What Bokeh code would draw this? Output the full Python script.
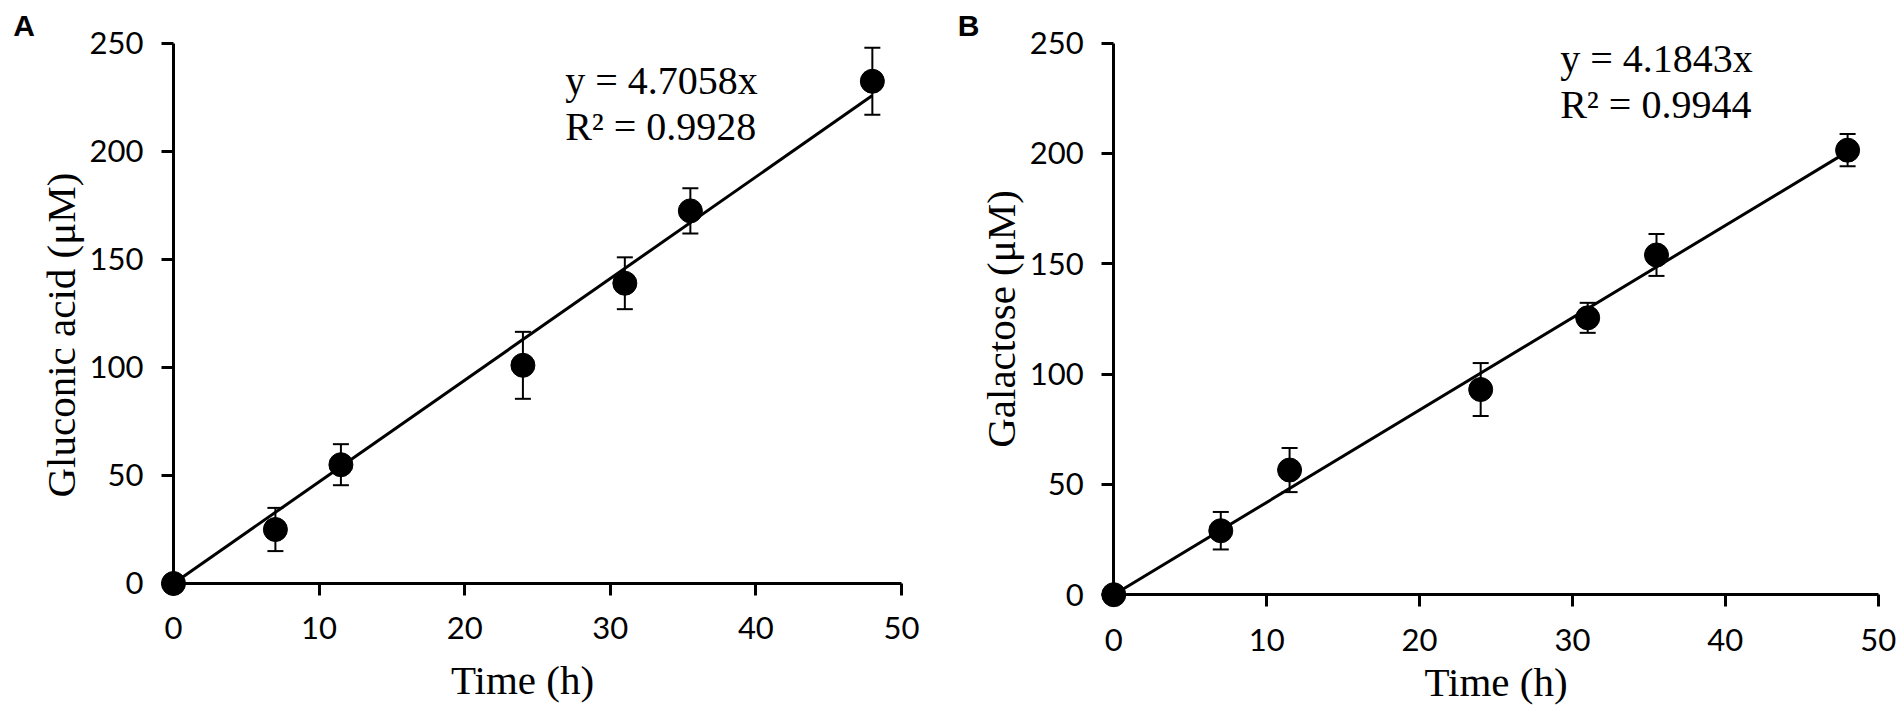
import math
from bokeh.plotting import figure
from bokeh.layouts import row
from bokeh.models import Whisker, TeeHead, ColumnDataSource, Label, Range1d
from bokeh.embed import file_html
from bokeh.resources import INLINE

# ---------------- data ----------------
time_h = [0, 7, 11.5, 24, 31, 35.5, 48]
gluconic = [0, 25, 55, 101, 139, 172.5, 232.5]
gluconic_err = [0, 10, 9.5, 15.5, 12, 10.5, 15.5]
galactose = [0, 29, 56.5, 93, 125.5, 154, 201.5]
galactose_err = [0, 8.5, 10, 12, 6.8, 9.5, 7.3]
x_ticks = [0, 10, 20, 30, 40, 50]
y_ticks = [0, 50, 100, 150, 200, 250]
slopes = [4.7058, 4.1843]
r_squared = [0.9928, 0.9944]
panel_letters = ["A", "B"]
y_titles = ["Gluconic acid (\u03bcM)", "Galactose (\u03bcM)"]
x_title = "Time (h)"

SERIF = "Liberation Serif"
SANS = "Lato"


def make_panel(yvals, yerr, slope, r2, letter, ytitle, geom):
    (w, h, xr, yr, eq_x, eq_y1, eq_y2, let_x, let_y, ylab, xlab) = geom
    p = figure(frame_width=w, frame_height=h,
               x_range=Range1d(*xr), y_range=Range1d(*yr),
               min_border=0,
               output_backend="svg", toolbar_location=None,
               background_fill_color="white", border_fill_color="white")
    p.outline_line_color = None
    p.grid.visible = False

    for ax in (p.xaxis[0], p.yaxis[0]):
        ax.fixed_location = 0
        ax.axis_line_width = 3
        ax.axis_line_color = "black"
        ax.major_tick_line_width = 3
        ax.major_tick_line_color = "black"
        ax.major_tick_in = 0
        ax.major_tick_out = 12
        ax.minor_tick_line_color = None
        ax.major_label_text_font = SANS
        ax.major_label_text_font_size = "31px"
        ax.major_label_text_color = "black"
        ax.axis_label_text_font = SERIF
        ax.axis_label_text_font_size = "41px"
        ax.axis_label_text_font_style = "normal"
        ax.axis_label_text_color = "black"

    p.xaxis.ticker = x_ticks
    p.yaxis.ticker = y_ticks
    p.xaxis.bounds = (x_ticks[0], x_ticks[-1])
    p.yaxis.bounds = (y_ticks[0], y_ticks[-1])
    p.xaxis.major_label_standoff = 22
    p.yaxis.major_label_standoff = 18

    title_style = dict(text_font=SERIF, text_font_size="41px",
                       text_color="black", text_align="center",
                       text_baseline="alphabetic")

    if isinstance(xlab, tuple):
        # x title drawn as a label (sits left of the axis centre)
        p.add_layout(Label(x=xlab[0], y=xlab[1], text=x_title, **title_style))
    else:
        p.xaxis.axis_label = x_title
        p.xaxis.axis_label_standoff = xlab

    if ylab is None:
        p.yaxis.axis_label = ytitle
        p.yaxis.axis_label_standoff = 3
    else:
        # y title drawn as a rotated label (sits lower than the axis centre)
        p.add_layout(Label(x=ylab[0], y=ylab[1], text=ytitle,
                           angle=math.pi / 2, **title_style))

    # fitted line through the origin
    fx = [time_h[0], time_h[-1]]
    fy = [slope * v for v in fx]
    p.line(fx, fy, line_color="black", line_width=3)

    src = ColumnDataSource(dict(
        x=time_h, y=yvals,
        upper=[a + b for a, b in zip(yvals, yerr)],
        lower=[a - b for a, b in zip(yvals, yerr)]))
    wk = Whisker(base="x", upper="upper", lower="lower", source=src,
                 line_color="black", line_width=2,
                 upper_head=TeeHead(size=16, line_width=2, line_color="black"),
                 lower_head=TeeHead(size=16, line_width=2, line_color="black"))
    p.add_layout(wk)
    p.scatter("x", "y", source=src, marker="circle", size=24,
              fill_color="black", line_color="black")

    p.add_layout(Label(x=eq_x, y=eq_y1, text="y = %.4fx" % slope,
                       text_font=SERIF, text_font_size="40px",
                       text_color="black", text_baseline="alphabetic"))
    p.add_layout(Label(x=eq_x, y=eq_y2, text="R\u00b2 = %.4f" % r2,
                       text_font=SERIF, text_font_size="40px",
                       text_color="black", text_baseline="alphabetic"))
    p.add_layout(Label(x=let_x, y=let_y, text=letter,
                       text_font="Liberation Sans", text_font_style="bold",
                       text_font_size="30px", text_color="black",
                       text_baseline="alphabetic"))
    return p


# The frame covers each whole canvas; ranges are chosen so that 0..50 / 0..250
# land where the reference axes are.
geom_a = (948, 710, (-11.88, 53.23), (-58.8, 269.9),
          26.9, 232.8, 211.6, -11.0, 258.4, (-7.73, 115.0), (23.97, -44.9))
geom_b = (952, 710, (-10.81, 51.46), (-52.5, 269.35),
          29.2, 243.1, 222.3, -10.2, 258.0, None, 5)

pa = make_panel(gluconic, gluconic_err, slopes[0], r_squared[0],
                panel_letters[0], y_titles[0], geom_a)
pb = make_panel(galactose, galactose_err, slopes[1], r_squared[1],
                panel_letters[1], y_titles[1], geom_b)

layout = row(pa, pb)
open("out.html", "w").write(file_html(layout, INLINE))
